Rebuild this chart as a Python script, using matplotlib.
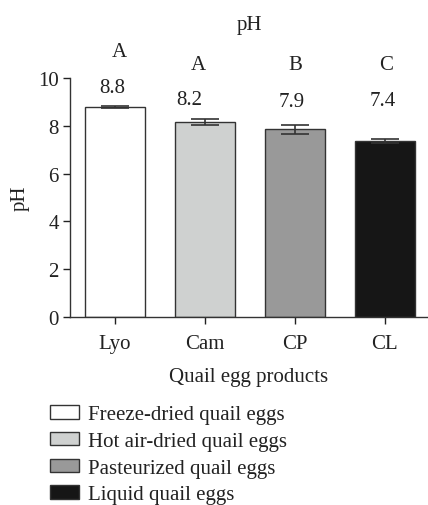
import numpy as np
import matplotlib
matplotlib.use("Agg")
import matplotlib.pyplot as plt
import matplotlib.patches as patches

plt.rcParams['font.family'] = ['Liberation Serif', 'DejaVu Serif']

# data
categories = ['Lyo', 'Cam', 'CP', 'CL']
means = [8.79, 8.16, 7.85, 7.36]
errors = [0.05, 0.11, 0.18, 0.10]
value_labels = ['8.8', '8.2', '7.9', '7.4']
letters = ['A', 'A', 'B', 'C']
legend_names = ['Freeze-dried quail eggs', 'Hot air-dried quail eggs',
                'Pasteurized quail eggs', 'Liquid quail eggs']
colors = ['#ffffff', '#cfd1d0', '#999999', '#161616']

edge = '#333333'
txt = '#222222'
fs = 15

fig = plt.figure(figsize=(4.28, 5.06), dpi=100)
ax = fig.add_axes([70 / 428, 1 - 318 / 506, 1 - 70 / 428, (318 - 79) / 506])

x = np.arange(len(categories))
ax.bar(x, means, width=0.667, color=colors, edgecolor=edge, linewidth=1.0, zorder=2)
ax.errorbar(x, means, yerr=errors, fmt='none', ecolor=edge, elinewidth=1.2,
            capsize=10, capthick=1.2, zorder=3)

# annotation placement (pixels)
val_dx = [-0.03, -0.17, -0.04, -0.02]
val_y = [9.62, 9.12, 9.0, 9.04]
let_dx = [0.05, -0.07, 0.0, 0.01]
let_y = [11.1, 10.55, 10.55, 10.55]
for i in range(len(categories)):
    ax.text(x[i] + val_dx[i], val_y[i], value_labels[i], ha='center', va='center',
            fontsize=fs, color=txt, clip_on=False)
    ax.text(x[i] + let_dx[i], let_y[i], letters[i], ha='center', va='center',
            fontsize=fs, color=txt, clip_on=False)

ax.set_xlim(-0.5, 3.48)
ax.set_ylim(0, 10)
ax.set_yticks([0, 2, 4, 6, 8, 10])
ax.set_xticks(x)
ax.set_xticklabels(categories)
ax.tick_params(labelsize=fs, colors=txt, length=5, width=1.0, direction='out', pad=3)
ax.tick_params(axis='x', pad=7)
for s in ['top', 'right']:
    ax.spines[s].set_visible(False)
for s in ['left', 'bottom']:
    ax.spines[s].set_color(edge)
    ax.spines[s].set_linewidth(1.0)

ax.set_ylabel('pH', fontsize=fs, color=txt, labelpad=6)
ax.set_xlabel('Quail egg products', fontsize=fs, color=txt, labelpad=10)
ax.set_title('pH', fontsize=fs, color=txt, pad=35)

handles = [patches.Patch(facecolor=c, edgecolor=edge, linewidth=1.0) for c in colors]
fig.legend(handles, legend_names, loc='upper left', bbox_to_anchor=(50 / 428, 1 - 406 / 506),
           frameon=False, fontsize=fs, handlelength=1.4, handleheight=0.62,
           handletextpad=0.4, labelspacing=0.37, borderaxespad=0, borderpad=0,
           labelcolor=txt)

fig.savefig('out.png', dpi=100)
